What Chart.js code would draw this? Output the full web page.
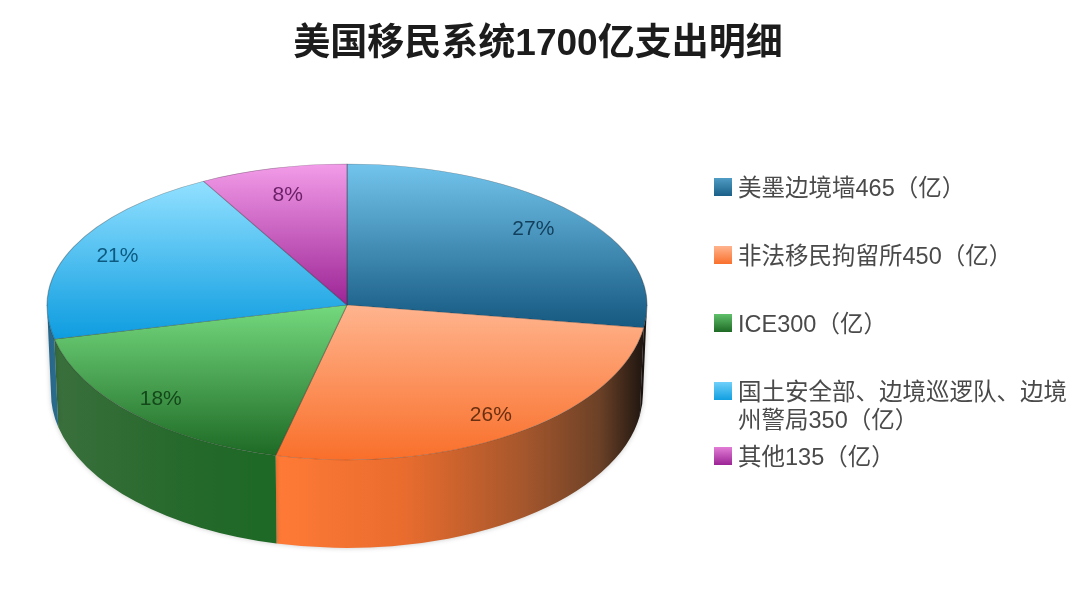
<!DOCTYPE html>
<html>
<head>
<meta charset="utf-8">
<script src="https://cdn.jsdelivr.net/npm/chart.js@4"></script>
<style>
  html, body { margin: 0; padding: 0; background: #fff; }
  canvas { display: block; filter: blur(0.5px); }
</style>
</head>
<body>
<canvas id="pie" width="1080" height="616"></canvas>
<script>
const titleText = '美国移民系统1700亿支出明细';
const categories = [
  '美墨边境墙465（亿）',
  '非法移民拘留所450（亿）',
  'ICE300（亿）',
  ['国土安全部、边境巡逻队、边境', '州警局350（亿）'],
  '其他135（亿）'
];
const values = [465, 450, 300, 350, 135];

// look of each slice, same order as the values
const topColors = [['#72c4ec', '#175a82'], ['#ffb48e', '#f96f2a'], ['#74d97e', '#1e6a25'], ['#8fdfff', '#0f9de0'], ['#f29be8', '#9c2495']];
const topRange = [[165, 325], [305, 460], [305, 455], [185, 338], [165, 305]];
const labelColors = ['#123f5c', '#6a2f10', '#14481a', '#0d5a80', '#6a1f66'];
const labelDepth = [0.82, 0.86, 0.87, 0.84, 0.8];
const wallStops = [
  [[0, '#1c1410'], [1, '#1c1410']],
  [[0, '#ff7a36'], [0.35, '#e96c2e'], [0.68, '#a4562c'], [0.88, '#6b4127'], [1, '#1e1510']],
  [[0, '#3a6f3c'], [0.6, '#25692b'], [1, '#1d6925']],
  [[0, '#26658a'], [1, '#2a6a8a']],
  [[0, '#9c2495'], [1, '#9c2495']]
];
const legendSwatch = [['#4f9cc4', '#1a5f87'], ['#ffb48e', '#f9702c'], ['#5fc06a', '#1e6a25'], ['#6fd0fa', '#119fe0'], ['#e27cd6', '#9c2495']];
const legendY = [187, 255, 323, 391, 456];

// the flat pie is squashed onto this ellipse, a bit deeper below the centre like the original
const CX = 347, CY = 305, RX = 300, RX_FOOT = 296, RY_TOP = 141, RY_BOTTOM = 155, DEPTH = 88;
const fontFamily = '"Liberation Sans", "Noto Sans CJK SC", sans-serif';

function flatY(y, area) {
  const r = Math.min(area.right - area.left, area.bottom - area.top) / 2;
  const mid = (area.top + area.bottom) / 2;
  return mid + (y - CY) * r / (y < CY ? RY_TOP : RY_BOTTOM);
}

function topFill(c) {
  const area = c.chart.chartArea;
  if (!area) return topColors[c.dataIndex][1];
  const i = c.dataIndex;
  const g = c.chart.ctx.createLinearGradient(0, flatY(topRange[i][0], area), 0, flatY(topRange[i][1], area));
  g.addColorStop(0, topColors[i][0]);
  g.addColorStop(1, topColors[i][1]);
  return g;
}

const pie3d = {
  id: 'pie3d',
  beforeDatasetsDraw(chart) {
    const ctx = chart.ctx;
    const arcs = chart.getDatasetMeta(0).data;

    // side walls, only the front half of the rim shows
    arcs.forEach((arc, i) => {
      const a0 = Math.max(arc.startAngle, 0);
      const a1 = Math.min(arc.endAngle, Math.PI);
      const b0 = Math.max(arc.startAngle - Math.PI * 2, 0);
      const b1 = Math.min(arc.endAngle - Math.PI * 2, Math.PI);
      const from = a1 > a0 ? a0 : b0;
      const to = a1 > a0 ? a1 : b1;
      if (to <= from) return;
      const x0 = CX + RX * Math.cos(to);
      const x1 = CX + RX * Math.cos(from);
      const g = ctx.createLinearGradient(Math.min(x0, x1), 0, Math.max(x0, x1), 0);
      wallStops[i].forEach(s => g.addColorStop(s[0], s[1]));
      ctx.save();
      ctx.beginPath();
      ctx.ellipse(CX, CY, RX, RY_BOTTOM, 0, from, to);
      ctx.ellipse(CX, CY + DEPTH, RX_FOOT, RY_BOTTOM, 0, to, from, true);
      ctx.closePath();
      ctx.shadowColor = 'rgba(0,0,0,0.22)';
      ctx.shadowBlur = 5;
      ctx.fillStyle = g;
      ctx.fill();
      ctx.restore();
    });

    // top face: the library's own arcs, squashed, upper and lower part separately
    [[0, CY + 0.5, RY_TOP], [CY, chart.height, RY_BOTTOM]].forEach(part => {
      arcs.forEach(arc => {
        ctx.save();
        ctx.beginPath();
        ctx.rect(0, part[0], chart.width, part[1] - part[0]);
        ctx.clip();
        ctx.translate(CX, CY);
        ctx.scale(RX / arc.outerRadius, part[2] / arc.outerRadius);
        ctx.translate(-arc.x, -arc.y);
        arc.draw(ctx);
        ctx.restore();
      });
    });
    return false;
  },
  afterDraw(chart) {
    const ctx = chart.ctx;
    const arcs = chart.getDatasetMeta(0).data;
    const total = values.reduce((a, b) => a + b, 0);

    // percentage labels
    ctx.save();
    ctx.textAlign = 'center';
    ctx.textBaseline = 'middle';
    ctx.font = '21px ' + fontFamily;
    arcs.forEach((arc, i) => {
      const mid = (arc.startAngle + arc.endAngle) / 2;
      const sin = Math.sin(mid);
      const x = CX + Math.cos(mid) * RX * labelDepth[i];
      const y = CY + sin * (sin < 0 ? RY_TOP : RY_BOTTOM) * labelDepth[i];
      ctx.fillStyle = labelColors[i];
      ctx.fillText(Math.round(values[i] / total * 100) + '%', x, y);
    });
    ctx.restore();

    // legend
    ctx.save();
    ctx.textAlign = 'left';
    ctx.textBaseline = 'middle';
    ctx.font = '23.5px ' + fontFamily;
    categories.forEach((label, i) => {
      const y = legendY[i];
      const g = ctx.createLinearGradient(0, y - 9, 0, y + 9);
      g.addColorStop(0, legendSwatch[i][0]);
      g.addColorStop(1, legendSwatch[i][1]);
      ctx.fillStyle = g;
      ctx.fillRect(714, y - 9, 18, 18);
      ctx.fillStyle = '#4a4a4a';
      [].concat(label).forEach((line, n) => ctx.fillText(line, 738, y + 3 + n * 28));
    });
    ctx.restore();
  }
};

new Chart(document.getElementById('pie'), {
  type: 'pie',
  data: {
    labels: categories,
    datasets: [{
      data: values,
      backgroundColor: topFill,
      borderColor: 'rgba(40,40,40,0.35)',
      borderWidth: 1
    }]
  },
  options: {
    responsive: false,
    animation: false,
    events: [],
    layout: { padding: { left: 0, right: 4, top: 0, bottom: 10 } },
    plugins: {
      legend: { display: false },
      tooltip: { enabled: false },
      title: {
        display: true,
        text: titleText,
        color: '#1c1c1c',
        font: { family: fontFamily, size: 37, weight: 'bold' },
        padding: { top: 23, bottom: 20 }
      }
    }
  },
  plugins: [pie3d]
});
</script>
</body>
</html>
